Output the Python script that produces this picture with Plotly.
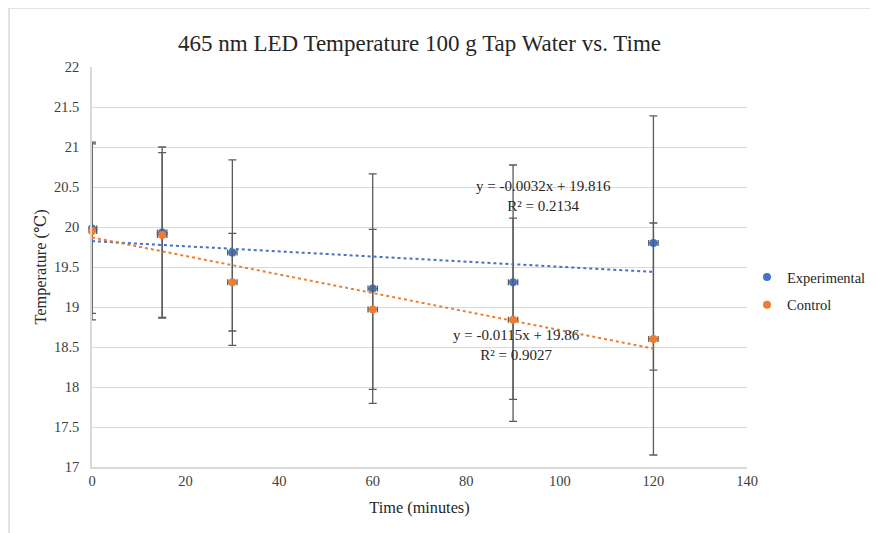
import numpy as np
import plotly.graph_objects as go

# Data
time_min = [0, 15, 30, 60, 90, 120]
exp_temp = [19.98, 19.93, 19.68, 19.23, 19.31, 19.80]
exp_err = [1.06, 1.07, 1.16, 1.435, 1.465, 1.59]
ctrl_temp = [19.95, 19.90, 19.31, 18.97, 18.84, 18.60]
ctrl_err = [1.11, 1.03, 0.61, 1.00, 1.27, 1.45]
time_err = [1, 1, 1, 1, 1, 1]

exp_eq = ["y = -0.0032x + 19.816", "R² = 0.2134"]
ctrl_eq = ["y = -0.0115x + 19.86", "R² = 0.9027"]

x_ticks = [0, 20, 40, 60, 80, 100, 120, 140]
y_ticks = [17, 17.5, 18, 18.5, 19, 19.5, 20, 20.5, 21, 21.5, 22]

BLUE = "#4472C4"
ORANGE = "#ED7D31"
ERR = "#5a5a5a"
GRID = "#d9d9d9"
FONT = "'Liberation Serif', 'Times New Roman', 'DejaVu Serif', serif"
TXT = "#262626"

fig = go.Figure()

def add_series(name, y, yerr, color, group):
    fig.add_trace(go.Scatter(
        x=time_min, y=y, mode="markers", name=name, legendgroup=group,
        marker=dict(color=color, size=8),
        error_y=dict(type="data", array=yerr, visible=True, color=ERR, thickness=1.3, width=4),
        error_x=dict(type="data", array=time_err, visible=True, color=ERR, thickness=1.3, width=3),
        cliponaxis=False,
    ))

add_series("Experimental", exp_temp, exp_err, BLUE, "g1")
add_series("Control", ctrl_temp, ctrl_err, ORANGE, "g2")

# Linear trendlines fitted from the data
xs = np.array([min(time_min), max(time_min)])
for y, color in [(exp_temp, BLUE), (ctrl_temp, ORANGE)]:
    m, b = np.polyfit(time_min, y, 1)
    fig.add_trace(go.Scatter(
        x=xs, y=m * xs + b, mode="lines", showlegend=False, hoverinfo="skip",
        line=dict(color=color, width=2, dash="dot"),
    ))

# Trendline equations
eq_font = dict(family=FONT, size=15, color=TXT)
fig.add_annotation(x=96.5, y=20.385, xref="x", yref="y", text="<br>".join(exp_eq),
                   showarrow=False, font=eq_font, align="center")
fig.add_annotation(x=90.8, y=18.52, xref="x", yref="y", text="<br>".join(ctrl_eq),
                   showarrow=False, font=eq_font, align="center")

# outer frame of the chart area
fig.add_shape(type="rect", xref="paper", yref="paper",
              x0=-0.1267, x1=1.25, y0=-0.2, y1=1.1475,
              line=dict(color="#d9d9d9", width=1.5), layer="below")

fig.update_layout(
    width=878, height=533,
    margin=dict(l=84, r=139, t=59, b=74, autoexpand=False),
    paper_bgcolor="white", plot_bgcolor="white",
    font=dict(family=FONT, color="#404040", size=14.5),
    title=dict(text="465 nm LED Temperature 100 g Tap Water vs. Time",
               x=0.5, xanchor="center", xref="paper", y=0.935, yanchor="middle",
               font=dict(family=FONT, size=23, color=TXT)),
    showlegend=True,
    legend=dict(x=1.0, y=0.44, xanchor="left", yanchor="middle",
                font=dict(family=FONT, size=14.5, color=TXT),
                traceorder="grouped", tracegroupgap=6, itemwidth=30,
                bgcolor="rgba(0,0,0,0)"),
    xaxis=dict(range=[0, 140], tickvals=x_ticks, showgrid=False, zeroline=False,
               showline=True, linecolor=GRID, linewidth=1.5, ticks="", ticklen=0,
               automargin=False,
               title=dict(text="Time (minutes)", font=dict(family=FONT, size=16.3, color=TXT), standoff=13),
               tickfont=dict(family=FONT, size=14.5, color="#404040")),
    yaxis=dict(range=[17, 22], tickvals=y_ticks, ticktext=[f"{v:g}" for v in y_ticks],
               showgrid=True, gridcolor=GRID, gridwidth=1, zeroline=False,
               showline=True, linecolor=GRID, linewidth=1.5, ticks="", ticklabelstandoff=8,
               automargin=False,
               title=dict(text="Temperature (℃)", font=dict(family=FONT, size=16.3, color=TXT), standoff=3),
               tickfont=dict(family=FONT, size=14.5, color="#404040")),
)

fig.write_html("out.html")
